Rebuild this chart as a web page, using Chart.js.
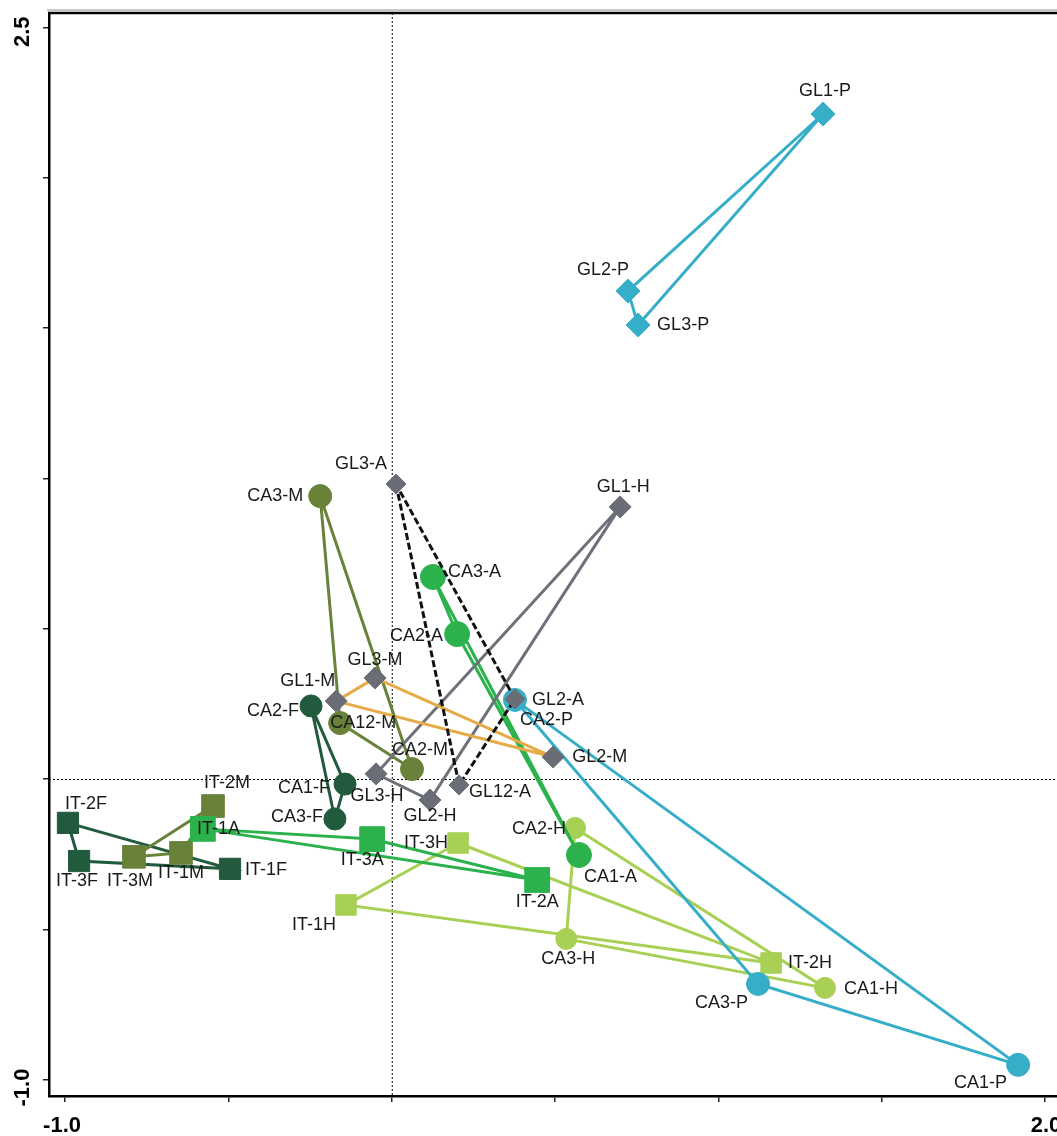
<!DOCTYPE html>
<html>
<head>
<meta charset="utf-8">
<script src="https://cdn.jsdelivr.net/npm/chart.js@4.4.1/dist/chart.umd.min.js"></script>
<style>
    html, body { margin: 0; padding: 0; background: #fff; }
    #grafico { display: block; }
</style>
</head>
<body>
<canvas id="grafico" width="1057" height="1136"></canvas>
<script>
// =========================================================
// DATOS
// =========================================================
const xTicks      = [-1.0, -0.5, 0, 0.5, 1.0, 1.5, 2.0];
const yTicks      = [-1.0, -0.5, 0, 0.5, 1.0, 1.5, 2.0, 2.5];
const xTickLabels = ['-1.0', '', '', '', '', '', '2.0'];
const yTickLabels = ['-1.0', '', '', '', '', '', '', '2.5'];

// [etiqueta, x, y] por grupo (cada grupo se cierra en triangulo)
const glA = [['GL3-A', 0.013, 0.981], ['GL12-A', 0.206, -0.020], ['GL2-A', 0.377, 0.266]];
const glM = [['GL1-M', -0.170, 0.259], ['GL3-M', -0.051, 0.336], ['GL2-M', 0.494, 0.073]];
const glH = [['GL1-H', 0.699, 0.905], ['GL3-H', -0.048, 0.017], ['GL2-H', 0.117, -0.070]];
const caP = [['CA2-P', 0.377, 0.263], ['CA3-P', 1.121, -0.682], ['CA1-P', 1.917, -0.951]];
const glP = [['GL1-P', 1.320, 2.212], ['GL2-P', 0.723, 1.623], ['GL3-P', 0.754, 1.510]];
const caA = [['CA3-A', 0.126, 0.672], ['CA2-A', 0.200, 0.482], ['CA1-A', 0.573, -0.253]];
const itA = [['IT-1A', -0.578, -0.166], ['IT-3A', -0.060, -0.200], ['IT-2A', 0.445, -0.336]];
const caM = [['CA3-M', -0.219, 0.941], ['CA12-M', -0.158, 0.186], ['CA2-M', 0.062, 0.033]];
const itM = [['IT-2M', -0.547, -0.090], ['IT-3M', -0.789, -0.259], ['IT-1M', -0.645, -0.246]];
const caF = [['CA2-F', -0.247, 0.243], ['CA1-F', -0.143, -0.017], ['CA3-F', -0.174, -0.133]];
const itF = [['IT-2F', -0.991, -0.146], ['IT-3F', -0.957, -0.273], ['IT-1F', -0.495, -0.299]];
const caH = [['CA2-H', 0.561, -0.163], ['CA3-H', 0.534, -0.532], ['CA1-H', 1.326, -0.695]];
const itH = [['IT-3H', 0.203, -0.213], ['IT-1H', -0.140, -0.419], ['IT-2H', 1.161, -0.612]];

// =========================================================
// ESTILOS
// =========================================================
const TEAL  = '#36AEC8';
const GRIS  = '#6A6C76';
const NAR   = '#E6AA46';
const OLIVA = '#68823A';
const OSCU  = '#215A3C';
const VERDE = '#2CB24C';
const LIMA  = '#A8D054';

// el primero queda encima
const grupos = [
    { pts: glA, color: GRIS,  linea: '#111', dash: [7, 3], estilo: 'rectRot', r: 10 },
    { pts: glM, color: GRIS,  linea: NAR,   estilo: 'rectRot', r: 11 },
    { pts: glH, color: GRIS,  linea: '#6F717A', estilo: 'rectRot', r: 11 },
    { pts: caP, color: TEAL,  linea: TEAL,  estilo: 'circle',  r: 11.5 },
    { pts: glP, color: TEAL,  linea: TEAL,  estilo: 'rectRot', r: 12 },
    { pts: caA, color: VERDE, linea: VERDE, estilo: 'circle',  r: 12.5 },
    { pts: itA, color: VERDE, linea: VERDE, estilo: 'rect',    r: 17.5 },
    { pts: caM, color: OLIVA, linea: OLIVA, estilo: 'circle',  r: 11.5 },
    { pts: itM, color: OLIVA, linea: OLIVA, estilo: 'rect',    r: 16 },
    { pts: caF, color: OSCU,  linea: OSCU,  estilo: 'circle',  r: 11 },
    { pts: itF, color: OSCU,  linea: OSCU,  estilo: 'rect',    r: 15 },
    { pts: caH, color: LIMA,  linea: LIMA,  estilo: 'circle',  r: 10.5 },
    { pts: itH, color: LIMA,  linea: LIMA,  estilo: 'rect',    r: 14.5 },
];

// [alineacion, dx, dy] de cada etiqueta respecto a su punto
const posEtiqueta = {
    'GL1-P': ['center', 2, -23],  'GL2-P': ['center', -25, -21], 'GL3-P': ['left', 19, 0],
    'GL3-A': ['right', -9, -20],  'GL12-A': ['left', 10, 7],     'GL2-A': ['left', 17, 1],
    'GL1-H': ['center', 3, -20],  'GL3-H': ['center', 1, 22],    'GL2-H': ['center', 0, 16],
    'GL1-M': ['right', -1, -20],  'GL3-M': ['center', 0, -18],   'GL2-M': ['left', 19, 0],
    'CA3-M': ['right', -17, 0],   'CA12-M': ['left', -10, 0],    'CA2-M': ['center', 8, -19],
    'CA3-A': ['left', 15, -5],    'CA2-A': ['right', -14, 2],    'CA1-A': ['left', 5, 22],
    'CA2-F': ['right', -12, 5],   'CA1-F': ['right', -15, 4],    'CA3-F': ['right', -12, -2],
    'CA2-P': ['left', 5, 20],     'CA3-P': ['right', -10, 19],   'CA1-P': ['right', -11, 18],
    'CA2-H': ['right', -9, 1],    'CA3-H': ['center', 2, 20],    'CA1-H': ['left', 19, 1],
    'IT-1A': ['left', -6, 0],     'IT-3A': ['center', -10, 21],  'IT-2A': ['center', 0, 22],
    'IT-2M': ['center', 14, -23], 'IT-3M': ['center', -4, 24],   'IT-1M': ['center', 0, 20],
    'IT-2F': ['center', 18, -19], 'IT-3F': ['center', -2, 20],   'IT-1F': ['left', 15, 1],
    'IT-3H': ['right', -10, 0],   'IT-1H': ['right', -10, 20],   'IT-2H': ['left', 17, 0],
};

// =========================================================
// PLUGIN: lineas de cero, marco superior, rotulos
// =========================================================
const marcoPlugin = {
    id: 'marco',
    beforeDatasetsDraw(chart) {
        const { ctx, chartArea: a, scales: { x, y } } = chart;
        const x0 = x.getPixelForValue(0);
        const y0 = y.getPixelForValue(0);
        ctx.save();
        ctx.strokeStyle = '#000';
        ctx.lineWidth = 1;
        ctx.setLineDash([2, 2]);
        ctx.beginPath();
        ctx.moveTo(x0 + 0.5, a.top);
        ctx.lineTo(x0 + 0.5, a.bottom);
        ctx.moveTo(a.left, y0 + 0.5);
        ctx.lineTo(a.right, y0 + 0.5);
        ctx.stroke();
        ctx.restore();
    },
    afterDatasetsDraw(chart) {
        const { ctx } = chart;
        ctx.save();
        ctx.font = '18px "Liberation Sans", Arial, sans-serif';
        ctx.fillStyle = '#1a1a1a';
        ctx.textBaseline = 'middle';
        grupos.forEach((g, i) => {
            const meta = chart.getDatasetMeta(i);
            g.pts.forEach((p, j) => {
                const el = meta.data[j];
                const pos = posEtiqueta[p[0]] || ['left', 12, 0];
                ctx.textAlign = pos[0];
                ctx.fillText(p[0], el.x + pos[1], el.y + pos[2]);
            });
        });
        ctx.restore();
    },
    afterDraw(chart) {
        const { ctx, chartArea: a, scales: { x, y } } = chart;
        ctx.save();
        // doble linea superior
        ctx.strokeStyle = '#b4b4b4';
        ctx.lineWidth = 1.5;
        ctx.beginPath();
        ctx.moveTo(a.left - 2, 10);
        ctx.lineTo(chart.width, 10);
        ctx.stroke();
        ctx.strokeStyle = '#000';
        ctx.lineWidth = 2.5;
        ctx.beginPath();
        ctx.moveTo(a.left - 1, a.top);
        ctx.lineTo(chart.width, a.top);
        ctx.stroke();

        // rotulos de ejes
        ctx.fillStyle = '#000';
        ctx.font = 'bold 22px "Liberation Sans", Arial, sans-serif';
        ctx.textBaseline = 'alphabetic';
        ctx.textAlign = 'right';
        xTicks.forEach((v, i) => {
            if (!xTickLabels[i]) return;
            ctx.fillText(xTickLabels[i], x.getPixelForValue(v) + 16, 1132);
        });
        yTicks.forEach((v, i) => {
            if (!yTickLabels[i]) return;
            ctx.save();
            ctx.translate(29, y.getPixelForValue(v) - 11);
            ctx.rotate(-Math.PI / 2);
            ctx.fillText(yTickLabels[i], 0, 0);
            ctx.restore();
        });
        ctx.restore();
    }
};

// =========================================================
// GRAFICO
// =========================================================
function ejeBase(ticks, ajuste) {
    return {
        type: 'linear',
        afterBuildTicks: s => { s.ticks = ticks.map(v => ({ value: v })); },
        afterFit: ajuste,
        ticks: { display: false },
        grid: { display: true, drawOnChartArea: false, drawTicks: true, tickLength: 6, color: '#222', lineWidth: 1.5 },
        border: { display: true, color: '#000', width: 2.5 }
    };
}

const datasets = grupos.map(g => ({
    data: g.pts.concat([g.pts[0]]).map(p => ({ x: p[1], y: p[2] })),
    showLine: true,
    borderColor: g.linea,
    borderWidth: 3,
    borderDash: g.dash || [],
    tension: 0,
    pointStyle: g.estilo,
    pointRadius: [g.r, g.r, g.r, 0],
    pointHoverRadius: [g.r, g.r, g.r, 0],
    pointBackgroundColor: g.color,
    pointBorderColor: g.color,
    pointBorderWidth: 1
}));

new Chart(document.getElementById('grafico'), {
    type: 'scatter',
    data: { datasets },
    options: {
        responsive: false,
        animation: false,
        layout: { autoPadding: false, padding: { top: 13, right: 0, bottom: 0, left: 0 } },
        plugins: { legend: { display: false }, tooltip: { enabled: false } },
        scales: {
            x: { ...ejeBase(xTicks, s => { s.height = 40; }), min: -1.049, max: 2.036 },
            y: { ...ejeBase(yTicks, s => { s.width = 49; }), min: -1.0546, max: 2.548 }
        }
    },
    plugins: [marcoPlugin]
});
</script>
</body>
</html>
